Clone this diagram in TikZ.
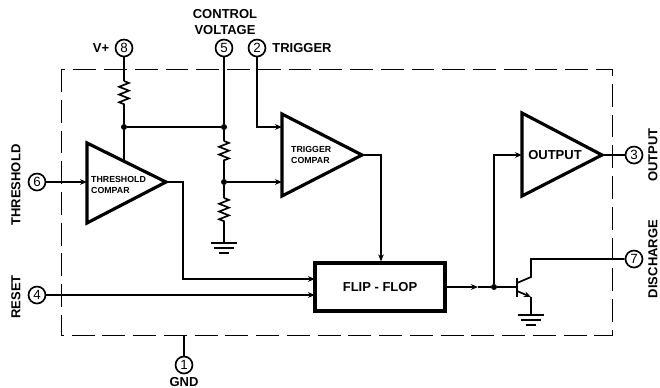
\documentclass[tikz,border=0pt]{standalone}
\usepackage{fontspec}
\setmainfont{Liberation Sans}
\usetikzlibrary{arrows.meta, decorations.pathmorphing}
\tikzset{every node/.style={font=\fontsize{7.4}{8}\selectfont\bfseries}}

\begin{document}
\begin{tikzpicture}[x=0.02cm, y=-0.02cm, >={Stealth[length=4pt,width=3.2pt]},
    wire/.style={line width=0.95pt},
    blockline/.style={line width=1.8pt, line join=miter},
    chipframe/.style={line width=0.5pt, dash pattern=on 13pt off 4.5pt},
    pinnode/.style={circle, draw, line width=0.95pt, minimum size=0.34cm, inner sep=0pt,
      font=\fontsize{7.6}{8}\selectfont},
    resistor/.style={wire, decorate, decoration={zigzag, segment length=4.4pt, amplitude=2.8pt}},
    dotnode/.style={circle, fill, minimum size=0.12cm, inner sep=0pt},
    smalltext/.style={font=\fontsize{5}{6}\selectfont\bfseries, align=left, anchor=west},
    gnd/.pic={
      \draw[wire] (-13,0) -- (13,0);
      \draw[wire] (-10,5) -- (10,5);
      \draw[wire] (-5,10) -- (5,10);
    }]
  % Bounding box of the page
  \path[use as bounding box] (0,0) rectangle (660,387);

  % Chip outline
  \draw[chipframe] (61,69) rectangle (612,335);

  % Pins
  \node[pinnode] (pinviii) at (124,48) {8};
  \node[pinnode] (pinv) at (224,48) {5};
  \node[pinnode] (pinii) at (257,48) {2};
  \node[pinnode] (pinvi) at (37,182) {6};
  \node[pinnode] (piniv) at (37,295) {4};
  \node[pinnode] (pini) at (184,365) {1};
  \node[pinnode] (piniii) at (634,155) {3};
  \node[pinnode] (pinvii) at (634,259) {7};

  % Pin labels
  \node (vplus) at (101,48) {V+};
  \node[align=center] (ctrl) at (225,22) {CONTROL\\[1.6pt]VOLTAGE};
  \node (trig) at (302,48) {TRIGGER};
  \node[rotate=90] (thrl) at (16,185) {THRESHOLD};
  \node[rotate=90] (rstl) at (16,297) {RESET};
  \node[rotate=90] (outl) at (653,155) {OUTPUT};
  \node[rotate=90] (disl) at (653,259) {DISCHARGE};
  \node (gndl) at (184,382) {GND};

  % Comparators and output stage
  \coordinate (thrtop) at (87,143);
  \coordinate (thrin) at (87,182);
  \coordinate (throut) at (166,182);
  \coordinate (thredge) at (124,160);
  \coordinate (trgin) at (282,127);
  \coordinate (trgref) at (282,182);
  \coordinate (trgout) at (362,155);
  \coordinate (outin) at (522,155);
  \coordinate (outout) at (602,155);
  \draw[blockline] (thrtop) -- (throut) -- (87,223) -- cycle;
  \draw[blockline] (282,114) -- (trgout) -- (282,196) -- cycle;
  \draw[blockline] (522,113) -- (outout) -- (522,196) -- cycle;
  \node[smalltext] (thrtxt) at (85,185) {THRESHOLD\\COMPAR};
  \node[smalltext] (trgtxt) at (285,155) {TRIGGER\\COMPAR};
  \node (outtxt) at (555,155) {OUTPUT};

  % Flip-flop
  \node[draw, blockline, minimum width=2.6cm, minimum height=0.96cm] (ff) at (380,287) {FLIP - FLOP};
  \coordinate (ffa) at (315,279);
  \coordinate (ffb) at (315,295);

  % Divider chain
  \node[dotnode] (jtop) at (124,127) {};
  \node[dotnode] (jctl) at (224,127) {};
  \node[dotnode] (jmid) at (224,182) {};
  \coordinate (ri) at (124,81);
  \coordinate (rib) at (124,108);
  \coordinate (rii) at (224,141);
  \coordinate (riib) at (224,164);
  \coordinate (riii) at (224,198);
  \coordinate (riiib) at (224,225);
  \coordinate (gndi) at (224,243);
  \draw[wire] (pinviii) -- (ri);
  \draw[resistor] (ri) -- (rib);
  \draw[wire] (rib) -- (jtop) -- (thredge);
  \draw[wire] (jtop) -- (jctl);
  \draw[wire] (pinv) -- (jctl) -- (rii);
  \draw[resistor] (rii) -- (riib);
  \draw[wire] (riib) -- (jmid) -- (riii);
  \draw[resistor] (riii) -- (riiib);
  \draw[wire] (riiib) -- (gndi);
  \pic at (gndi) {gnd};

  % Signal lines
  \draw[wire, ->] (pinii) |- (trgin);
  \draw[wire, ->] (jmid) -- (trgref);
  \draw[wire, ->] (pinvi) -- (thrin);
  \draw[wire, ->] (throut) -| (183,279) -- (ffa);
  \draw[wire, ->] (piniv) -- (ffb);
  \draw[wire, ->] (trgout) -| (ff.north -| 381,0);
  \draw[wire] (184,335) -- (pini);
  \draw[wire] (outout) -- (piniii);

  % Discharge transistor
  \node[dotnode] (jout) at (494,287) {};
  \coordinate (base) at (517,287);
  \coordinate (coll) at (531,259);
  \coordinate (emit) at (531,297);
  \coordinate (gndii) at (531,315);
  \draw[wire, ->] (ff.east) -- (478,287);
  \draw[wire] (478,287) -- (jout) -- (base);
  \draw[wire, ->] (jout) |- (outin);
  \draw[line width=1.2pt] (517,278) -- (517,297);
  \draw[wire] (517,283) -- (531,277) -- (coll) -- (pinvii);
  \draw[wire, ->] (517,291) -- (emit);
  \draw[wire] (emit) -- (gndii);
  \pic at (gndii) {gnd};
\end{tikzpicture}
\end{document}
